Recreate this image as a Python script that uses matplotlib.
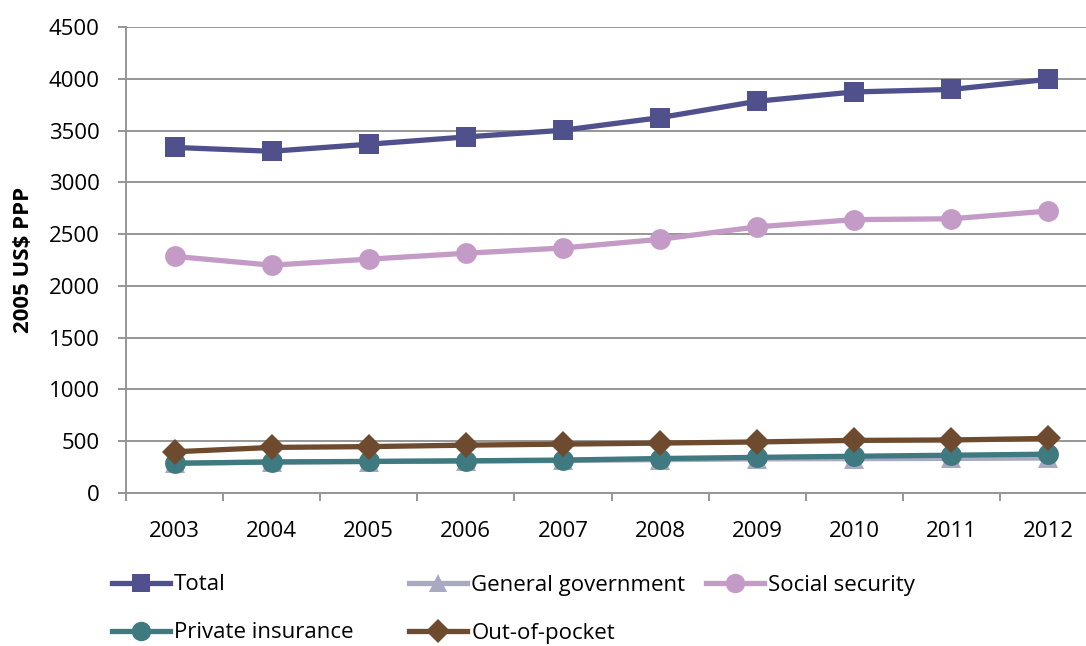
import matplotlib.pyplot as plt
from matplotlib.lines import Line2D

plt.rcParams['font.family'] = ['Open Sans', 'DejaVu Sans']

years = ['2003', '2004', '2005', '2006', '2007', '2008', '2009', '2010', '2011', '2012']
total = [3337, 3300, 3368, 3438, 3503, 3625, 3783, 3873, 3897, 3995]
general_government = [288, 298, 304, 308, 314, 322, 330, 332, 334, 338]
social_security = [2285, 2200, 2258, 2315, 2366, 2450, 2570, 2640, 2648, 2723]
private_insurance = [287, 300, 305, 311, 318, 333, 344, 355, 365, 375]
out_of_pocket = [398, 440, 448, 462, 472, 482, 493, 508, 512, 527]

series = [
    ('Total', total, '#4F508C', 's', 14),
    ('General government', general_government, '#A9A9C1', '^', 14),
    ('Social security', social_security, '#C49BC6', 'o', 15),
    ('Private insurance', private_insurance, '#3E7A80', 'o', 15),
    ('Out-of-pocket', out_of_pocket, '#6E4A2F', 'D', 13.5),
]

W, H = 1086, 646
fig = plt.figure(figsize=(W / 100, H / 100), dpi=100)
ax = fig.add_axes([126 / W, 1 - 493 / H, 971 / W, 466 / H])

x = list(range(len(years)))
handles = []
for name, vals, color, marker, ms in series:
    line, = ax.plot(x, vals, color=color, lw=3.8, marker=marker, ms=ms,
                    markeredgewidth=0, solid_capstyle='round', label=name,
                    clip_on=False)
    handles.append(line)

ax.set_xlim(-0.5, len(years) - 0.5)
ax.set_ylim(0, 4500)
ax.set_yticks(range(0, 4501, 500))
ax.set_xticks(x)
ax.set_xticklabels(years)
ax.set_xticks([i - 0.5 for i in range(len(years) + 1)], minor=True)

grid_col = '#969696'
ax.yaxis.grid(True, color=grid_col, lw=1.4)
ax.set_axisbelow(True)
for side in ['top', 'right']:
    ax.spines[side].set_visible(False)
for side in ['left', 'bottom']:
    ax.spines[side].set_color(grid_col)
    ax.spines[side].set_linewidth(1.4)

ax.tick_params(axis='y', length=6, width=1.4, color=grid_col, pad=13,
               labelsize=16, labelcolor='black')
ax.tick_params(axis='x', which='major', length=0, pad=20,
               labelsize=16, labelcolor='black')
ax.tick_params(axis='x', which='minor', length=6, width=1.4, color=grid_col)

fig.text(24 / W, 1 - 260 / H, '2005 US$ PPP', rotation=90, ha='center',
         va='center', fontsize=16, fontweight='bold')

# legend entries laid out on a fixed grid below the plot
legend_pos = [(112, 585), (409, 585), (706, 585), (112, 633), (409, 633)]
for h, (px, py) in zip(handles, legend_pos):
    proxy = Line2D([], [], color=h.get_color(), lw=3.8, marker=h.get_marker(),
                   ms=h.get_markersize() - 1, markeredgewidth=0)
    fig.legend([proxy], [h.get_label()], loc='center left',
               bbox_to_anchor=(px / W, 1 - py / H), frameon=False,
               borderpad=0, borderaxespad=0, handlelength=2.6,
               handletextpad=0.2, fontsize=16)

fig.savefig('out.png', dpi=100)
